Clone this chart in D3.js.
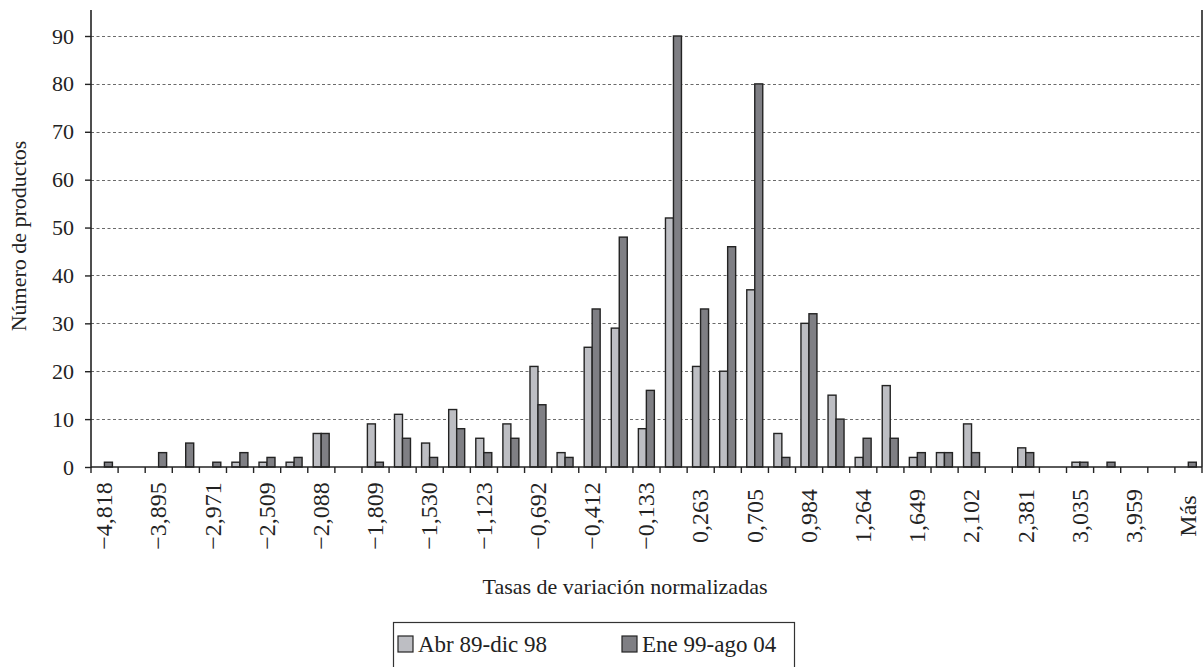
<!DOCTYPE html>
<html>
<head>
<meta charset="utf-8">
<script src="https://cdn.jsdelivr.net/npm/d3@7"></script>
<style>
  html, body { margin: 0; padding: 0; background: #fff; }
  svg { display: block; font-family: "Liberation Serif", "Times New Roman", serif; }
</style>
</head>
<body>
<svg id="chart" width="1204" height="667"></svg>
<script>
// ---- data ----
const binLabels = ["−4,818", null, "−3,895", null, "−2,971", null, "−2,509", null, "−2,088", null,
  "−1,809", null, "−1,530", null, "−1,123", null, "−0,692", null, "−0,412", null,
  "−0,133", null, "0,263", null, "0,705", null, "0,984", null, "1,264", null,
  "1,649", null, "2,102", null, "2,381", null, "3,035", null, "3,959", null, "Más"];
const seriesNames = ["Abr 89-dic 98", "Ene 99-ago 04"];
const abr89dic98 = [0, 0, 0, 0, 0, 1, 1, 1, 7, 0,
  9, 11, 5, 12, 6, 9, 21, 3, 25, 29,
  8, 52, 21, 20, 37, 7, 30, 15, 2, 17,
  2, 3, 9, 0, 4, 0, 1, 0, 0, 0, 0];
const ene99ago04 = [1, 0, 3, 5, 1, 3, 2, 2, 7, 0,
  1, 6, 2, 8, 3, 6, 13, 2, 33, 48,
  16, 90, 33, 46, 80, 2, 32, 10, 6, 6,
  3, 3, 3, 0, 3, 0, 1, 1, 0, 0, 1];
const yTicks = [0, 10, 20, 30, 40, 50, 60, 70, 80, 90];
const yTitle = "Número de productos";
const xTitle = "Tasas de variación normalizadas";

// ---- layout ----
const svg = d3.select("#chart");
const L = 91, R = 1202, T = 10, B = 467;
const colors = ["#bdbec3", "#7f7f84"];
const stroke = "#232323";

const idx = d3.range(binLabels.length);
const x = d3.scaleBand().domain(idx).range([L, R]).paddingInner(0).paddingOuter(0);
const bw = x.bandwidth();
const xs = d3.scaleBand().domain([0, 1]).range([bw * 0.2, bw * 0.79]).padding(0);
const y = d3.scaleLinear().domain([0, 90 * (B - T) / (B - 36)]).range([B, T]);

// gridlines
svg.append("g").selectAll("line")
  .data(yTicks.filter(d => d > 0))
  .join("line")
  .attr("x1", L).attr("x2", R)
  .attr("y1", d => Math.round(y(d)) + 0.5).attr("y2", d => Math.round(y(d)) + 0.5)
  .attr("stroke", "#6a6a6a").attr("stroke-width", 1.2)
  .attr("stroke-dasharray", "3,2.5");

// bars
const series = [abr89dic98, ene99ago04];
series.forEach((vals, s) => {
  svg.append("g").selectAll("rect")
    .data(vals.map((v, i) => ({ i, v })).filter(d => d.v > 0))
    .join("rect")
    .attr("x", d => x(d.i) + xs(s))
    .attr("width", xs.bandwidth())
    .attr("y", d => y(d.v))
    .attr("height", d => B - y(d.v))
    .attr("fill", colors[s])
    .attr("stroke", stroke)
    .attr("stroke-width", 1.4);
});

// y axis
const yAxis = d3.axisLeft(y).tickValues(yTicks).tickSize(6).tickPadding(11).tickFormat(d3.format("d"));
const gy = svg.append("g").attr("transform", `translate(${L},0)`).call(yAxis);
gy.select(".domain").remove();
gy.selectAll(".tick line").attr("stroke", stroke).attr("stroke-width", 1.4);
gy.selectAll(".tick text").attr("font-size", 22).attr("fill", "#222")
  .attr("font-family", "Liberation Serif");
svg.append("line").attr("x1", L).attr("x2", L).attr("y1", T).attr("y2", B + 1)
  .attr("stroke", stroke).attr("stroke-width", 1.6);
// right spine
svg.append("line").attr("x1", R).attr("x2", R).attr("y1", T).attr("y2", B)
  .attr("stroke", stroke).attr("stroke-width", 1.6);

// x axis
svg.append("line").attr("x1", L).attr("x2", R).attr("y1", B).attr("y2", B)
  .attr("stroke", stroke).attr("stroke-width", 1.6);
const edges = d3.range(binLabels.length + 1).map(i => L + i * bw);
svg.append("g").selectAll("line").data(edges).join("line")
  .attr("x1", d => d).attr("x2", d => d)
  .attr("y1", B).attr("y2", B + 6)
  .attr("stroke", stroke).attr("stroke-width", 1.4);

svg.append("g").selectAll("text")
  .data(idx.filter(i => binLabels[i] !== null))
  .join("text")
  .attr("transform", i => `translate(${x(i) + bw / 2},516) rotate(-90)`)
  .attr("text-anchor", "middle")
  .attr("dy", "0.32em")
  .attr("font-size", 24)
  .attr("fill", "#222")
  .text(i => binLabels[i]);

// titles
svg.append("text")
  .attr("transform", `translate(18,236) rotate(-90)`)
  .attr("text-anchor", "middle").attr("dy", "0.35em")
  .attr("font-size", 22).attr("fill", "#222")
  .text(yTitle);
svg.append("text")
  .attr("x", 625).attr("y", 594)
  .attr("text-anchor", "middle")
  .attr("font-size", 22).attr("fill", "#222")
  .text(xTitle);

// legend
const lg = svg.append("g");
lg.append("rect").attr("x", 393.5).attr("y", 622.5).attr("width", 401).attr("height", 50)
  .attr("fill", "#fff").attr("stroke", "#333").attr("stroke-width", 1.2);
const legX = [398, 622];
seriesNames.forEach((name, s) => {
  lg.append("rect").attr("x", legX[s]).attr("y", 636).attr("width", 15).attr("height", 16)
    .attr("fill", colors[s]).attr("stroke", stroke).attr("stroke-width", 1.2);
  lg.append("text").attr("x", legX[s] + 20).attr("y", 652)
    .attr("font-size", 23).attr("fill", "#222").text(name);
});
</script>
</body>
</html>
